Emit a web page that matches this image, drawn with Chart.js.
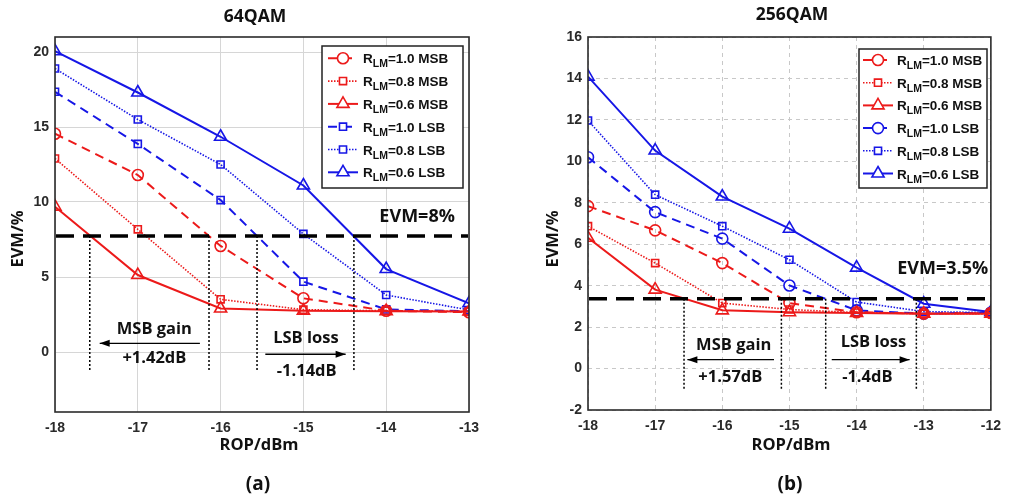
<!DOCTYPE html>
<html>
<head>
<meta charset="utf-8">
<script src="https://cdn.jsdelivr.net/npm/chart.js@4.4.1/dist/chart.umd.min.js"></script>
<style>
  html, body { margin: 0; padding: 0; background: #fff; }
  #wrap { position: relative; width: 1009px; height: 497px; overflow: hidden; }
  canvas { position: absolute; top: 0; }
  #c64 { left: 0; }
  #c256 { left: 500px; }
</style>
</head>
<body>
<div id="wrap">
  <canvas id="c64" width="500" height="497"></canvas>
  <canvas id="c256" width="509" height="497"></canvas>
</div>
<script>
// ---- data: 64QAM (a) ----
const rop64 = [-18, -17, -16, -15, -14, -13];
const msb10_64 = [14.55, 11.8, 7.07, 3.58, 2.75, 2.65];
const msb08_64 = [12.9, 8.18, 3.51, 2.82, 2.75, 2.7];
const msb06_64 = [9.69, 5.13, 2.9, 2.75, 2.72, 2.7];
const lsb10_64 = [17.35, 13.87, 10.13, 4.69, 2.84, 2.72];
const lsb08_64 = [18.9, 15.5, 12.5, 7.87, 3.8, 2.8];
const lsb06_64 = [20.05, 17.3, 14.35, 11.1, 5.53, 3.25];
const xTicks64 = [-18, -17, -16, -15, -14, -13];
const yTicks64 = [0, 5, 10, 15, 20];

// ---- data: 256QAM (b) ----
const rop256 = [-18, -17, -16, -15, -14, -13, -12];
const msb10_256 = [7.84, 6.67, 5.09, 3.16, 2.72, 2.65, 2.68];
const msb08_256 = [6.87, 5.09, 3.16, 2.85, 2.7, 2.65, 2.65];
const msb06_256 = [6.31, 3.81, 2.81, 2.72, 2.68, 2.65, 2.65];
const lsb10_256 = [10.2, 7.55, 6.27, 4.01, 2.81, 2.65, 2.7];
const lsb08_256 = [11.97, 8.39, 6.87, 5.25, 3.21, 2.75, 2.7];
const lsb06_256 = [14.09, 10.52, 8.3, 6.75, 4.87, 3.13, 2.73];
const xTicks256 = [-18, -17, -16, -15, -14, -13, -12];
const yTicks256 = [-2, 0, 2, 4, 6, 8, 10, 12, 14, 16];

const seriesLabels = ['R_LM=1.0 MSB', 'R_LM=0.8 MSB', 'R_LM=0.6 MSB', 'R_LM=1.0 LSB', 'R_LM=0.8 LSB', 'R_LM=0.6 LSB'];

// ---- styles ----
const RED = 'rgb(236,26,26)';
const BLUE = 'rgb(22,22,230)';
const seriesColors = [RED, RED, RED, BLUE, BLUE, BLUE];
const seriesLines = ['dashed', 'dotted', 'solid', 'dashed', 'dotted', 'solid'];
const markers64 = ['circle', 'rect', 'triangle', 'rect', 'rect', 'triangle'];
const markers256 = ['circle', 'rect', 'triangle', 'circle', 'rect', 'triangle'];
const LINE = {
  dashed: { dash: [9, 6], w: 2 },
  dotted: { dash: [1.5, 1.5], w: 1.6 },
  solid: { dash: [], w: 2 }
};
const RADIUS = { circle: 5.5, rect: 5, triangle: 7 };
const TICK_FONT = '"Liberation Sans", Arial, sans-serif';
const TEXT_FONT = '"Open Sans", "DejaVu Sans", sans-serif';

function buildDatasets(xs, series, markers) {
  return series.map((ys, i) => ({
    label: seriesLabels[i],
    data: xs.map((x, j) => ({ x: x, y: ys[j] })),
    borderColor: seriesColors[i],
    borderWidth: LINE[seriesLines[i]].w,
    borderDash: LINE[seriesLines[i]].dash,
    pointStyle: markers[i],
    pointRadius: RADIUS[markers[i]],
    pointBorderWidth: 1.6,
    pointBorderColor: seriesColors[i],
    pointBackgroundColor: 'rgba(0,0,0,0)',
    tension: 0,
    fill: false
  }));
}

function drawMarker(ctx, style, x, y, r) {
  ctx.beginPath();
  if (style === 'circle') {
    ctx.arc(x, y, r, 0, Math.PI * 2);
  } else if (style === 'rect') {
    const s = r * Math.SQRT1_2;
    ctx.rect(x - s, y - s, 2 * s, 2 * s);
  } else {
    const h = r * Math.sqrt(3) / 2;
    ctx.moveTo(x, y - r);
    ctx.lineTo(x + h, y + r / 2);
    ctx.lineTo(x - h, y + r / 2);
    ctx.closePath();
  }
  ctx.fill();
  ctx.stroke();
}

function drawArrow(ctx, x0, x1, y) {
  ctx.beginPath();
  ctx.moveTo(x0, y);
  ctx.lineTo(x1, y);
  ctx.stroke();
  const dir = Math.sign(x1 - x0);
  ctx.beginPath();
  ctx.moveTo(x1, y);
  ctx.lineTo(x1 - dir * 10, y - 3.5);
  ctx.lineTo(x1 - dir * 10, y + 3.5);
  ctx.closePath();
  ctx.fill();
}

// draws the frame, threshold, notes, legend and titles
const overlay = {
  id: 'overlay',
  afterDatasetsDraw(chart, args, o) {
    const { ctx, chartArea: a } = chart;
    const x = chart.scales.x, y = chart.scales.y;
    ctx.save();

    // axis box
    ctx.setLineDash([]);
    ctx.strokeStyle = '#2b2b2b';
    ctx.lineWidth = 1.6;
    ctx.strokeRect(a.left, a.top, a.right - a.left, a.bottom - a.top);

    // threshold line
    const ty = y.getPixelForValue(o.evm);
    ctx.strokeStyle = '#000';
    ctx.lineWidth = 3.5;
    ctx.setLineDash([18, 9]);
    ctx.beginPath();
    ctx.moveTo(a.left + 1, ty);
    ctx.lineTo(a.right - 1, ty);
    ctx.stroke();

    // vertical dotted marks
    ctx.lineWidth = 1.5;
    ctx.setLineDash([2, 2]);
    o.marks.forEach(v => {
      const px = x.getPixelForValue(v);
      ctx.beginPath();
      ctx.moveTo(px, ty);
      ctx.lineTo(px, y.getPixelForValue(o.markBottom));
      ctx.stroke();
    });

    // arrows
    ctx.setLineDash([]);
    ctx.lineWidth = 1.3;
    ctx.fillStyle = '#000';
    o.arrows.forEach(ar => {
      drawArrow(ctx, x.getPixelForValue(ar.from), x.getPixelForValue(ar.to), y.getPixelForValue(ar.y));
    });

    // notes
    ctx.fillStyle = '#111';
    ctx.textBaseline = 'middle';
    o.notes.forEach(n => {
      ctx.textAlign = n.align || 'center';
      ctx.font = 'bold ' + (n.size || 16.5) + 'px ' + TEXT_FONT;
      ctx.fillText(n.text, x.getPixelForValue(n.x), y.getPixelForValue(n.y));
    });

    // legend
    const lg = o.legend;
    ctx.fillStyle = '#fff';
    ctx.fillRect(lg.x, lg.y, lg.w, lg.h);
    ctx.strokeStyle = '#222';
    ctx.lineWidth = 1.5;
    ctx.strokeRect(lg.x, lg.y, lg.w, lg.h);
    chart.data.datasets.forEach((ds, i) => {
      const cy = lg.rowY + i * lg.step;
      ctx.strokeStyle = ds.borderColor;
      ctx.lineWidth = ds.borderWidth;
      ctx.setLineDash(ds.borderDash);
      ctx.beginPath();
      ctx.moveTo(lg.lineX0, cy);
      ctx.lineTo(lg.lineX1, cy);
      ctx.stroke();
      ctx.setLineDash([]);
      ctx.lineWidth = 1.6;
      ctx.fillStyle = '#fff';
      drawMarker(ctx, ds.pointStyle, lg.markX, cy, ds.pointRadius);
      const parts = ds.label.split('_');
      const main = parts[0];
      const sub = parts[1].split('=')[0];
      const rest = '=' + parts[1].split('=')[1];
      ctx.fillStyle = '#111';
      ctx.textAlign = 'left';
      ctx.textBaseline = 'alphabetic';
      let tx = lg.textX;
      ctx.font = 'bold 13.5px ' + TICK_FONT;
      ctx.fillText(main, tx, cy + 5);
      tx += ctx.measureText(main).width;
      ctx.font = 'bold 10.5px ' + TICK_FONT;
      ctx.fillText(sub, tx, cy + 9);
      tx += ctx.measureText(sub).width;
      ctx.font = 'bold 13.5px ' + TICK_FONT;
      ctx.fillText(rest, tx, cy + 5);
    });

    // titles
    ctx.fillStyle = '#111';
    ctx.textAlign = 'center';
    ctx.textBaseline = 'middle';
    ctx.font = 'bold 17.5px ' + TEXT_FONT;
    ctx.fillText(o.title, o.titleX, o.titleY);
    ctx.font = 'bold 16.5px ' + TEXT_FONT;
    ctx.fillText(o.xTitle, o.xTitleX, o.xTitleY);
    ctx.font = 'bold 19px ' + TEXT_FONT;
    ctx.fillText(o.caption, o.captionX, o.captionY);
    ctx.save();
    ctx.translate(o.yTitleX, o.yTitleY);
    ctx.rotate(-Math.PI / 2);
    ctx.font = 'bold 16.5px ' + TEXT_FONT;
    ctx.fillText(o.yTitle, 0, 0);
    ctx.restore();

    ctx.restore();
  }
};
Chart.register(overlay);

function makeChart(id, cfg) {
  const tickFont = { family: TICK_FONT, size: 14, weight: 'bold' };
  return new Chart(document.getElementById(id), {
    type: 'line',
    data: { datasets: cfg.datasets },
    options: {
      responsive: false,
      animation: false,
      layout: { padding: { top: cfg.area.top, right: cfg.area.right, left: 0, bottom: 0 } },
      scales: {
        x: {
          type: 'linear',
          min: cfg.xMin, max: cfg.xMax,
          afterBuildTicks: s => { s.ticks = cfg.xTicks.map(v => ({ value: v })); },
          afterFit: s => { s.height = cfg.area.bottom; },
          grid: { color: cfg.gridColor, lineWidth: 1, drawTicks: false },
          border: { display: false, dash: cfg.gridDash },
          ticks: { padding: 8, color: '#2a2a2a', font: tickFont }
        },
        y: {
          type: 'linear',
          min: cfg.yMin, max: cfg.yMax,
          afterBuildTicks: s => { s.ticks = cfg.yTicks.map(v => ({ value: v })); },
          afterFit: s => { s.width = cfg.area.left; },
          grid: { color: cfg.gridColor, lineWidth: 1, drawTicks: false },
          border: { display: false, dash: cfg.gridDash },
          ticks: { padding: 6, color: '#2a2a2a', font: tickFont }
        }
      },
      plugins: {
        legend: { display: false },
        title: { display: false },
        tooltip: { enabled: false },
        overlay: cfg.overlay
      }
    }
  });
}

makeChart('c64', {
  datasets: buildDatasets(rop64, [msb10_64, msb08_64, msb06_64, lsb10_64, lsb08_64, lsb06_64], markers64),
  xTicks: xTicks64, yTicks: yTicks64,
  xMin: -18, xMax: -13, yMin: -4, yMax: 21,
  area: { left: 55, top: 37, right: 31, bottom: 85 },
  gridColor: '#d6d6d6', gridDash: [],
  overlay: {
    evm: 7.73,
    marks: [-17.58, -16.14, -15.56, -14.39],
    markBottom: -1.3,
    arrows: [{ from: -16.25, to: -17.46, y: 0.58 }, { from: -15.46, to: -14.49, y: -0.15 }],
    notes: [
      { text: 'MSB gain', x: -16.8, y: 1.53 },
      { text: '+1.42dB', x: -16.8, y: -0.4 },
      { text: 'LSB loss', x: -14.97, y: 0.93 },
      { text: '-1.14dB', x: -14.96, y: -1.3 },
      { text: 'EVM=8%', x: -13.17, y: 9.02, align: 'right', size: 18 }
    ],
    legend: { x: 322, y: 46, w: 141, h: 142, rowY: 58.3, step: 22.8, lineX0: 328, lineX1: 358, markX: 343, textX: 363 },
    title: '64QAM', titleX: 255, titleY: 17,
    xTitle: 'ROP/dBm', xTitleX: 259, xTitleY: 445,
    yTitle: 'EVM/%', yTitleX: 18, yTitleY: 239,
    caption: '(a)', captionX: 258, captionY: 485
  }
});

makeChart('c256', {
  datasets: buildDatasets(rop256, [msb10_256, msb08_256, msb06_256, lsb10_256, lsb08_256, lsb06_256], markers256),
  xTicks: xTicks256, yTicks: yTicks256,
  xMin: -18, xMax: -12, yMin: -2, yMax: 16,
  area: { left: 88, top: 37, right: 10, bottom: 87 },
  gridColor: '#c8c8c8', gridDash: [4, 4],
  overlay: {
    evm: 3.37,
    marks: [-16.57, -15.12, -14.46, -13.11],
    markBottom: -1.05,
    arrows: [{ from: -15.23, to: -16.52, y: 0.43 }, { from: -14.37, to: -13.21, y: 0.43 }],
    notes: [
      { text: 'MSB gain', x: -15.83, y: 1.12 },
      { text: '+1.57dB', x: -15.88, y: -0.4 },
      { text: 'LSB loss', x: -13.75, y: 1.25 },
      { text: '-1.4dB', x: -13.84, y: -0.4 },
      { text: 'EVM=3.5%', x: -12.04, y: 4.82, align: 'right', size: 18 }
    ],
    legend: { x: 359, y: 49, w: 128, h: 139, rowY: 60, step: 22.7, lineX0: 363, lineX1: 393, markX: 378, textX: 397 },
    title: '256QAM', titleX: 292, titleY: 15,
    xTitle: 'ROP/dBm', xTitleX: 291, xTitleY: 445,
    yTitle: 'EVM/%', yTitleX: 53, yTitleY: 239,
    caption: '(b)', captionX: 290, captionY: 485
  }
});
</script>
</body>
</html>
